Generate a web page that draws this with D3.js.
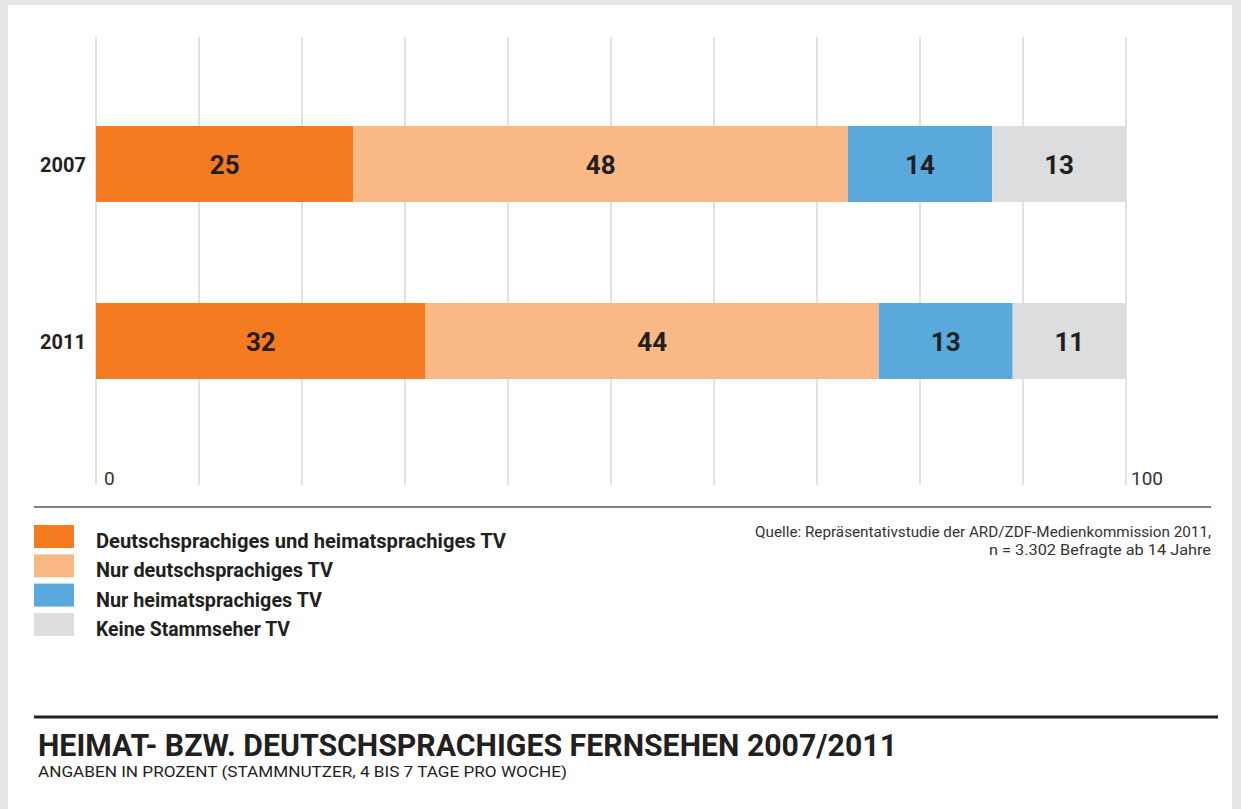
<!DOCTYPE html>
<html>
<head>
    <meta charset='utf-8' />
    <title>Heimat- bzw. deutschsprachiges Fernsehen</title>
    <script src="https://cdn.jsdelivr.net/npm/d3@7"></script>
    <style>
        body { margin: 0; padding: 0; background: #e6e7e8; }
        svg { display: block; font-family: Roboto, "Liberation Sans", sans-serif; }
    </style>
</head>
<body>
<svg id="chart" width="1241" height="809"></svg>
<script>
    // data
    var years = ["2007", "2011"];
    var series = ["Deutschsprachiges und heimatsprachiges TV", "Nur deutschsprachiges TV",
                  "Nur heimatsprachiges TV", "Keine Stammseher TV"];
    var values2007 = [25, 48, 14, 13];
    var values2011 = [32, 44, 13, 11];
    var colors = ["#f47b20", "#f9b884", "#5aa9dc", "#dcdddf"];
    var tickValues = [0, 10, 20, 30, 40, 50, 60, 70, 80, 90, 100];
    var axisLabels = ["0", "100"];

    var svg = d3.select("#chart");

    // weißes Blatt
    svg.append("rect").attr("x", 8).attr("y", 5).attr("width", 1224).attr("height", 804).attr("fill", "#fff");

    var x = d3.scaleLinear().domain([0, 100]).range([96, 1126]);
    var y = d3.scalePoint().domain(years).range([164, 341]); // Balkenmitte

    // Gitterlinien
    svg.append("g").selectAll("line").data(tickValues).enter().append("line")
        .attr("x1", function (d) { return x(d); }).attr("x2", function (d) { return x(d); })
        .attr("y1", 37).attr("y2", 485)
        .attr("stroke", "#cfcfcf").attr("stroke-width", 1.2);

    var rows = years.map(function (yr, i) {
        var vals = i === 0 ? values2007 : values2011;
        var acc = 0;
        return vals.map(function (v, j) {
            var seg = { year: yr, value: v, x0: acc, x1: acc + v, color: colors[j] };
            acc += v;
            return seg;
        });
    });
    var segs = [].concat.apply([], rows);

    var bh = 76;
    var bars = svg.append("g");
    bars.selectAll("rect").data(segs).enter().append("rect")
        .attr("x", function (d) { return x(d.x0); })
        .attr("width", function (d) { return x(d.x1) - x(d.x0); })
        .attr("y", function (d) { return y(d.year) - bh / 2; })
        .attr("height", bh)
        .attr("fill", function (d) { return d.color; });

    bars.selectAll("text").data(segs).enter().append("text")
        .attr("x", function (d) { return x((d.x0 + d.x1) / 2); })
        .attr("y", function (d) { return y(d.year) + 10; })
        .attr("text-anchor", "middle")
        .attr("font-size", 26).attr("font-weight", "bold").attr("fill", "#231f20")
        .text(function (d) { return d.value; });

    // Jahreszahlen
    svg.append("g").selectAll("text").data(years).enter().append("text")
        .attr("x", 86)
        .attr("y", function (d) { return y(d) + 8; })
        .attr("text-anchor", "end")
        .attr("font-size", 20).attr("font-weight", "bold").attr("fill", "#231f20")
        .text(function (d) { return d; });

    // Achsenbeschriftung
    svg.append("text").attr("x", x(0) + 8).attr("y", 485).attr("font-size", 19).attr("fill", "#333").text(axisLabels[0]);
    svg.append("text").attr("x", x(100) + 5).attr("y", 485).attr("font-size", 19).attr("fill", "#333").text(axisLabels[1]);

    // Trennlinie
    svg.append("line").attr("x1", 34).attr("x2", 1211).attr("y1", 507).attr("y2", 507)
        .attr("stroke", "#555").attr("stroke-width", 1.5);

    // Legende
    var legWidths = [410, 237, 226, 194];
    var leg = svg.append("g").selectAll("g").data(series).enter().append("g")
        .attr("transform", function (d, i) { return "translate(34," + (525 + i * 29.3) + ")"; });
    leg.append("rect").attr("width", 40).attr("height", 23)
        .attr("fill", function (d, i) { return colors[i]; });
    leg.append("text").attr("x", 62).attr("y", 23)
        .attr("font-size", 20).attr("font-weight", "bold").attr("fill", "#231f20")
        .attr("textLength", function (d, i) { return legWidths[i]; })
        .attr("lengthAdjust", "spacingAndGlyphs")
        .text(function (d) { return d; });

    // Quelle
    svg.append("text").attr("x", 1211).attr("y", 537).attr("text-anchor", "end")
        .attr("font-size", 14).attr("fill", "#333")
        .attr("textLength", 456).attr("lengthAdjust", "spacingAndGlyphs")
        .text("Quelle: Repräsentativstudie der ARD/ZDF-Medienkommission 2011,");
    svg.append("text").attr("x", 1211).attr("y", 555).attr("text-anchor", "end")
        .attr("font-size", 14).attr("fill", "#333")
        .attr("textLength", 222).attr("lengthAdjust", "spacingAndGlyphs")
        .text("n = 3.302 Befragte ab 14 Jahre");

    // Titelblock
    svg.append("line").attr("x1", 34).attr("x2", 1218).attr("y1", 717).attr("y2", 717)
        .attr("stroke", "#231f20").attr("stroke-width", 3);
    svg.append("text").attr("x", 38).attr("y", 756)
        .attr("font-size", 31).attr("font-weight", "bold").attr("fill", "#231f20")
        .attr("textLength", 859).attr("lengthAdjust", "spacingAndGlyphs")
        .text("HEIMAT- BZW. DEUTSCHSPRACHIGES FERNSEHEN 2007/2011");
    svg.append("text").attr("x", 38).attr("y", 777)
        .attr("font-size", 14).attr("fill", "#231f20")
        .attr("textLength", 529).attr("lengthAdjust", "spacingAndGlyphs")
        .text("ANGABEN IN PROZENT (STAMMNUTZER, 4 BIS 7 TAGE PRO WOCHE)");
</script>
</body>
</html>
